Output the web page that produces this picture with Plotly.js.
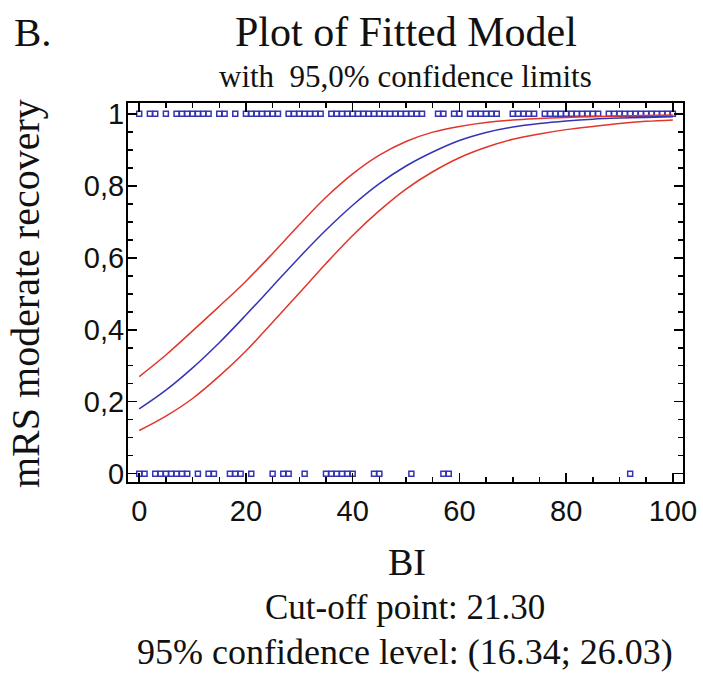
<!DOCTYPE html>
<html>
<head>
<meta charset="utf-8">
<script src="https://cdn.plot.ly/plotly-3.0.1.min.js"></script>
<style>
  html, body { margin: 0; padding: 0; background: #ffffff; }
  #chart { width: 703px; height: 676px; }
</style>
</head>
<body>
<div id="chart"></div>
<script>
const recoveredBI = [0, 2, 3, 5, 7, 8, 9, 10, 11, 12, 13, 15, 16, 18,
  20, 21, 22, 23, 24, 25, 26, 28, 29, 30, 31, 32, 33, 34,
  36, 37, 38, 39, 40, 41, 42, 43, 44, 45, 46, 47, 48, 49, 50, 51, 52, 53,
  56, 57, 59, 60, 62, 63, 64, 65, 66, 67, 70, 71, 72, 73, 74,
  76, 77, 78, 79, 80, 81, 82, 83, 84, 85, 86,
  88, 89, 90, 91, 92, 93, 94, 95, 96, 97, 98, 99, 100];
const notRecoveredBI = [0, 1, 3, 4, 5, 6, 7, 8, 9, 11, 13, 14, 17, 18, 19, 21,
  25, 27, 28, 31, 35, 36, 37, 38, 39, 40, 44, 45, 51, 57, 58, 92];

// Fitted model and 95% limits
const gridBI = [0, 5, 10, 15, 20, 25, 30, 35, 40, 45, 50, 55, 60, 65, 70, 75, 80, 85, 90, 95, 100];
const fitted = [0.180, 0.232, 0.294, 0.364, 0.441, 0.521, 0.601, 0.677, 0.746, 0.806, 0.855,
  0.894, 0.926, 0.948, 0.963, 0.973, 0.980, 0.985, 0.988, 0.990, 0.992];
const upperLimit = [0.270, 0.330, 0.397, 0.465, 0.535, 0.612, 0.692, 0.768, 0.833, 0.885, 0.923,
  0.949, 0.965, 0.976, 0.983, 0.987, 0.990, 0.992, 0.994, 0.9955, 0.9966];
const lowerLimit = [0.120, 0.160, 0.209, 0.271, 0.341, 0.421, 0.502, 0.584, 0.662, 0.731, 0.791,
  0.839, 0.878, 0.907, 0.929, 0.944, 0.956, 0.965, 0.973, 0.979, 0.983];

const xTickVals = [0, 20, 40, 60, 80, 100];
const xTickText = ['0', '20', '40', '60', '80', '100'];
const yTickVals = [0, 0.2, 0.4, 0.6, 0.8, 1];
const yTickText = ['0', '0,2', '0,4', '0,6', '0,8', '1'];

const blue = '#3434b4';
const red = '#e2352c';
const serif = '"Liberation Serif", "Times New Roman", serif';
const sans = '"Liberation Sans", Arial, sans-serif';

const W = 703, H = 676;
const M = { l: 128, r: 20, t: 103, b: 194 };
const plotH = H - M.t - M.b;
const plotW = W - M.l - M.r;
function py(p) { return (H - M.b - p) / plotH; }
function px(p) { return (p - M.l) / plotW; }

const markerStyle = { symbol: 'square-open', size: 5, color: blue, line: { width: 1.5, color: blue } };

const traces = [
  { x: recoveredBI, y: recoveredBI.map(() => 1), type: 'scatter', mode: 'markers',
    marker: markerStyle, cliponaxis: false },
  { x: notRecoveredBI, y: notRecoveredBI.map(() => 0), type: 'scatter', mode: 'markers',
    marker: markerStyle, cliponaxis: false },
  { x: gridBI, y: upperLimit, type: 'scatter', mode: 'lines',
    line: { color: red, width: 1.5, shape: 'spline' } },
  { x: gridBI, y: lowerLimit, type: 'scatter', mode: 'lines',
    line: { color: red, width: 1.5, shape: 'spline' } },
  { x: gridBI, y: fitted, type: 'scatter', mode: 'lines',
    line: { color: blue, width: 1.5, shape: 'spline' } }
];

const axisCommon = {
  showline: true, linecolor: '#000', linewidth: 2, mirror: 'ticks',
  ticks: 'inside', ticklen: 9, tickwidth: 1.5, tickcolor: '#000',
  showgrid: false, zeroline: false,
  tickfont: { family: sans, size: 29, color: '#111' }
};

const layout = {
  width: W, height: H,
  margin: M,
  paper_bgcolor: '#ffffff', plot_bgcolor: '#ffffff',
  showlegend: false,
  xaxis: Object.assign({}, axisCommon, {
    range: [-2.1, 101.9], tickvals: xTickVals, ticktext: xTickText,
    minor: { dtick: 5, tick0: 0, ticks: 'inside', ticklen: 5, tickwidth: 1.5, tickcolor: '#000', showgrid: false },
    ticklabelstandoff: 2
  }),
  yaxis: Object.assign({}, axisCommon, {
    range: [-0.023, 1.03], tickvals: yTickVals, ticktext: yTickText,
    minor: { dtick: 0.05, tick0: 0, ticks: 'inside', ticklen: 5, tickwidth: 1.5, tickcolor: '#000', showgrid: false },
    ticklabelstandoff: -4
  }),
  annotations: [
    { text: 'B.', xref: 'paper', yref: 'paper', x: px(12), y: py(32), xanchor: 'left', yanchor: 'middle',
      showarrow: false, font: { family: serif, size: 41, color: '#111' } },
    { text: 'Plot of Fitted Model', xref: 'paper', yref: 'paper', x: px(406), y: py(32), xanchor: 'center', yanchor: 'middle',
      showarrow: false, font: { family: serif, size: 42, color: '#111' } },
    { text: 'with  95,0% confidence limits', xref: 'paper', yref: 'paper', x: px(405), y: py(76), xanchor: 'center', yanchor: 'middle',
      showarrow: false, font: { family: serif, size: 31, color: '#111' } },
    { text: 'mRS moderate recovery', xref: 'paper', yref: 'paper', x: px(25), y: py(294), xanchor: 'center', yanchor: 'middle',
      textangle: -90, showarrow: false, font: { family: serif, size: 40, color: '#111' } },
    { text: 'BI', xref: 'paper', yref: 'paper', x: px(407), y: py(562), xanchor: 'center', yanchor: 'middle',
      showarrow: false, font: { family: serif, size: 38, color: '#111' } },
    { text: 'Cut-off point: 21.30', xref: 'paper', yref: 'paper', x: px(405), y: py(607), xanchor: 'center', yanchor: 'middle',
      showarrow: false, font: { family: serif, size: 35, color: '#111' } },
    { text: '95% confidence level: (16.34; 26.03)', xref: 'paper', yref: 'paper', x: px(405), y: py(652), xanchor: 'center', yanchor: 'middle',
      showarrow: false, font: { family: serif, size: 36, color: '#111' } }
  ]
};

Plotly.newPlot('chart', traces, layout, { staticPlot: true, displayModeBar: false });
</script>
</body>
</html>
